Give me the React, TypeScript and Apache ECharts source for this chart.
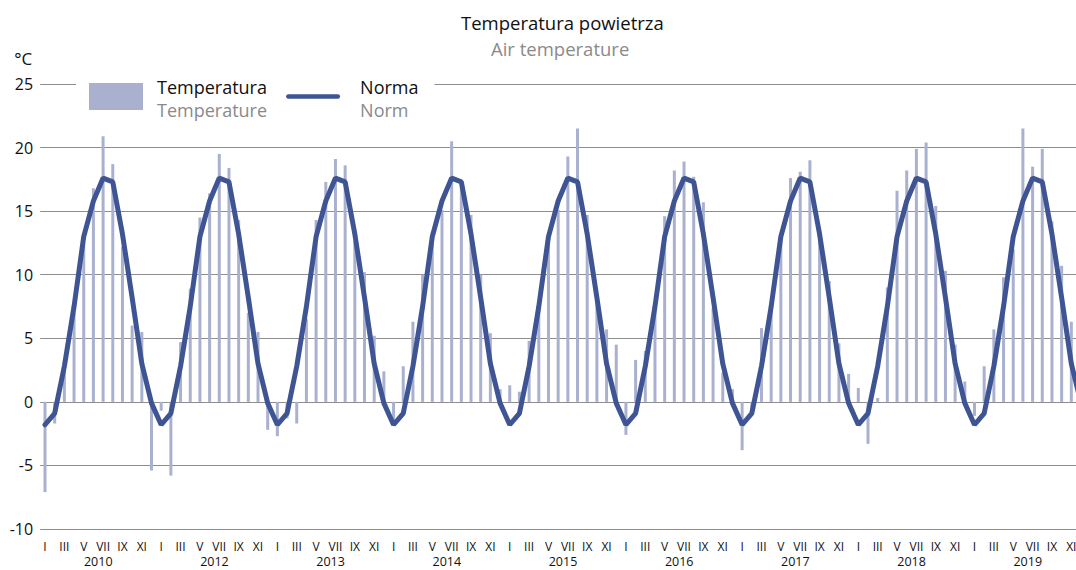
import React, { useEffect, useRef } from "react";
import * as echarts from "echarts";

const monthNames = ["I", "II", "III", "IV", "V", "VI", "VII", "VIII", "IX", "X", "XI", "XII"];
const yearLabels = ["2010", "2012", "2013", "2014", "2015", "2016", "2017", "2018", "2019"];

// Monthly mean air temperature (°C), one array per year shown
const temp2010 = [-7.1, -1.7, 2.6, 7.0, 12.5, 16.8, 20.9, 18.7, 12.2, 6.0, 5.5, -5.4];
const temp2012 = [-0.7, -5.8, 4.7, 8.9, 14.5, 16.4, 19.5, 18.4, 14.3, 7.0, 5.5, -2.2];
const temp2013 = [-2.7, -1.3, -1.7, 6.5, 14.3, 17.3, 19.1, 18.6, 12.6, 10.2, 5.2, 2.4];
const temp2014 = [-1.5, 2.8, 6.3, 10.0, 13.4, 15.1, 20.5, 17.2, 14.7, 10.0, 5.4, 1.0];
const temp2015 = [1.3, 0.8, 4.8, 7.6, 12.5, 15.1, 19.3, 21.5, 14.7, 7.8, 5.7, 4.5];
const temp2016 = [-2.6, 3.3, 4.0, 7.6, 14.6, 18.2, 18.9, 17.7, 15.7, 7.4, 2.3, 1.0];
const temp2017 = [-3.8, -0.6, 5.8, 7.2, 13.2, 17.6, 18.1, 19.0, 13.3, 9.5, 4.6, 2.2];
const temp2018 = [1.1, -3.3, 0.3, 9.0, 16.6, 18.2, 19.9, 20.4, 15.4, 10.3, 4.5, 1.6];
const temp2019 = [-1.1, 2.8, 5.7, 9.8, 12.0, 21.5, 18.5, 19.9, 14.2, 10.7, 6.3, 2.0];

// Long-term monthly norm (°C)
const norm = [-1.8, -0.9, 2.8, 7.5, 13.0, 15.8, 17.6, 17.3, 13.2, 8.2, 3.0, -0.1];

const yTicks = { min: -10, max: 25, interval: 5 };

const FONT = "'Open Sans', 'Noto Sans', sans-serif";
const BAR_COLOR = "#a9b1cf";
const LINE_COLOR = "#3f5493";

export default function App() {
  const ref = useRef<HTMLDivElement>(null);

  useEffect(() => {
    if (!ref.current) return;
    document.body.style.margin = "0";
    const chart = echarts.init(ref.current, undefined, { renderer: "svg" });

    const yearsData = [temp2010, temp2012, temp2013, temp2014, temp2015, temp2016, temp2017, temp2018, temp2019];
    const categories: string[] = [];
    yearLabels.forEach((y) => monthNames.forEach((m) => categories.push(y + "-" + m)));
    const tempSeries = yearsData.flat();
    const normSeries = yearLabels.flatMap(() => norm);

    chart.setOption({
      animation: false,
      textStyle: { fontFamily: FONT },
      title: [
        {
          text: "Temperatura powietrza",
          left: 461,
          top: 10,
          padding: 0,
          textStyle: { fontFamily: FONT, fontSize: 18.5, fontWeight: "normal", color: "#111", lineHeight: 24 },
        },
        {
          text: "Air temperature",
          left: 491,
          top: 36,
          padding: 0,
          textStyle: { fontFamily: FONT, fontSize: 18.5, fontWeight: "normal", color: "#8a8a8a", lineHeight: 24 },
        },
      ],
      legend: {
        left: 76,
        top: 74,
        padding: [4, 16, 4, 13],
        backgroundColor: "#ffffff",
        itemWidth: 54,
        itemHeight: 27,
        itemGap: 19,
        selectedMode: false,
        symbolKeepAspect: true,
        data: [
          { name: "Temperatura", icon: "rect" },
          {
            name: "Norma",
            icon: "path://M2.5,0H55.5A2.5,2.5,0,0,1,55.5,5H2.5A2.5,2.5,0,0,1,2.5,0Z",
          },
        ],
        formatter: (name: string) =>
          name === "Temperatura" ? "{a|Temperatura}\n{b|Temperature}" : "{c|Norma}\n{d|Norm}",
        textStyle: {
          fontFamily: FONT,
          padding: [4, 0, 0, 9],
          rich: {
            a: { fontFamily: FONT, fontSize: 18, color: "#111", lineHeight: 23 },
            b: { fontFamily: FONT, fontSize: 18, color: "#8a8a8a", lineHeight: 23 },
            c: { fontFamily: FONT, fontSize: 18, color: "#111", lineHeight: 23, padding: [0, 0, 0, 6] },
            d: { fontFamily: FONT, fontSize: 18, color: "#8a8a8a", lineHeight: 23, padding: [0, 0, 0, 6] },
          },
        },
      },
      grid: {
        left: 40.16,
        right: -9.84,
        top: 84,
        bottom: 41,
        containLabel: false,
        outerBoundsMode: "none",
      },
      xAxis: [
        {
          type: "category",
          data: categories,
          position: "bottom",
          boundaryGap: true,
          axisLine: { show: false },
          axisTick: { show: false },
          splitLine: { show: false },
          axisLabel: {
            interval: 1,
            hideOverlap: false,
            margin: 11.5,
            fontSize: 12,
            lineHeight: 12,
            color: "#111",
            fontFamily: FONT,
            formatter: (v: string) => v.split("-")[1],
          },
        },
        {
          type: "category",
          data: yearLabels,
          position: "bottom",
          boundaryGap: true,
          axisLine: { show: false },
          axisTick: { show: false },
          splitLine: { show: false },
          axisLabel: {
            interval: 0,
            margin: 26.5,
            fontSize: 12.5,
            lineHeight: 12.5,
            color: "#111",
            fontFamily: FONT,
          },
        },
      ],
      yAxis: {
        type: "value",
        min: yTicks.min,
        max: yTicks.max,
        interval: yTicks.interval,
        name: "°C",
        nameLocation: "end",
        nameGap: 17,
        nameTextStyle: { fontFamily: FONT, fontSize: 17, color: "#111", align: "right", padding: [0, 8, 0, 0] },
        axisLine: { show: false },
        axisTick: { show: false },
        axisLabel: { margin: 7, fontSize: 16, color: "#111", fontFamily: FONT },
        splitLine: { show: true, lineStyle: { color: "#8e8e8e", width: 1 } },
      },
      series: [
        {
          name: "Temperatura",
          type: "bar",
          data: tempSeries,
          barWidth: 3,
          itemStyle: { color: BAR_COLOR },
          xAxisIndex: 0,
        },
        {
          name: "Norma",
          type: "line",
          data: normSeries,
          symbol: "none",
          showSymbol: false,
          xAxisIndex: 0,
          lineStyle: { color: LINE_COLOR, width: 5, cap: "round" },
          itemStyle: { color: LINE_COLOR },
          z: 3,
        },
      ],
    });

    return () => chart.dispose();
  }, []);

  return <div ref={ref} style={{ position: "absolute", left: 0, top: 0, width: 1076, height: 570 }} />;
}
